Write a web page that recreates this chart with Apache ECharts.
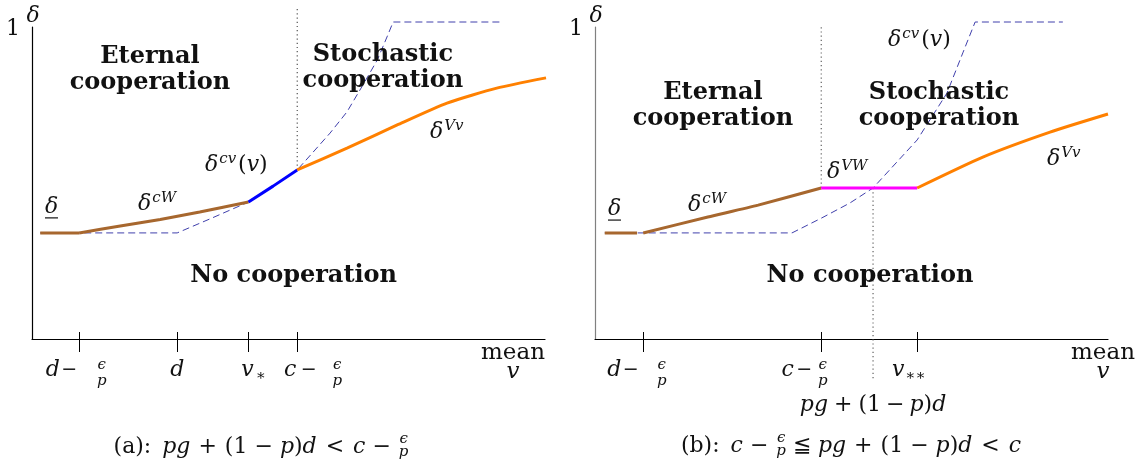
<!DOCTYPE html>
<html>
<head>
<meta charset="utf-8">
<script src="https://cdn.jsdelivr.net/npm/echarts@6/dist/echarts.min.js"></script>
<style>
  html, body { margin: 0; padding: 0; background: #fff; }
  #c { width: 1146px; height: 475px; }
</style>
</head>
<body>
<div id="c"></div>
<script>
// ---- positions on the "mean v" axis ----
const ticksA = [0.92, 2.83, 4.22, 5.17];   // d-ϵ/p, d, v*, c-ϵ/p
const ticksB = [0.94, 4.41, 6.28];         // d-ϵ/p, c-ϵ/p, v**
const pgB = 5.42;                          // pg+(1-p)d in panel (b)

// ---- panel (a) curves, [v, δ] ----
const lowA  = [[0.16, 0.34], [0.92, 0.34]];
const cWA   = [[0.92, 0.34], [1.72, 0.362], [2.50, 0.383], [3.27, 0.407], [4.22, 0.439]];
const cvSolidA = [[4.22, 0.439], [4.70, 0.49], [5.17, 0.542]];
const VvA   = [[5.17, 0.542], [6.14, 0.612], [7.12, 0.686], [8.09, 0.756], [9.06, 0.804], [10.02, 0.837]];
const cvA   = [[0.16, 0.34], [2.83, 0.34], [3.47, 0.385], [4.22, 0.439], [4.70, 0.49], [5.17, 0.542],
               [5.48, 0.599], [5.81, 0.660], [6.14, 0.728], [6.45, 0.814], [6.73, 0.894], [6.92, 0.968],
               [7.04, 1.016], [9.12, 1.016]];

// ---- panel (b) curves, [v, δ] ----
const lowB  = [[0.19, 0.34], [0.82, 0.34]];
const cWB   = [[0.94, 0.34], [2.20, 0.391], [3.18, 0.429], [4.41, 0.484]];
const VWB   = [[4.41, 0.484], [6.28, 0.484]];
const VvB   = [[6.28, 0.484], [7.56, 0.583], [8.87, 0.663], [10.0, 0.721]];
const cvB   = [[0.19, 0.34], [3.84, 0.34], [4.42, 0.388], [4.97, 0.436], [5.42, 0.484], [6.28, 0.638],
               [6.86, 0.788], [7.17, 0.917], [7.41, 1.016], [9.12, 1.016]];

// tick labels: [text, font, dx of glyph centre, baseline below axis]
const tickLabelsA = [
  [['d', 'it', -26.5, 38], ['−', 'mn', -10, 37], ['ϵ', 'fr', 22.5, 31], ['p', 'fr', 22.5, 47]],
  [['d', 'it', 0, 38]],
  [['v', 'it', -1, 38], ['∗', 'frr', 12, 42]],
  [['c', 'it', -7, 38], ['−', 'mn', 11.5, 37], ['ϵ', 'fr', 40, 31], ['p', 'fr', 40, 47]]
];
const tickLabelsB = [
  [['d', 'it', -29, 38], ['−', 'mn', -12.5, 37], ['ϵ', 'fr', 18.5, 31], ['p', 'fr', 18.5, 47]],
  [['c', 'it', -33.5, 38], ['−', 'mn', -17, 37], ['ϵ', 'fr', 1.5, 31], ['p', 'fr', 1.5, 47]],
  [['v', 'it', -19, 38], ['∗∗', 'frr', -2, 42]]
];

// ---- styling ----
const INK = '#111';
const FAMILY = "'DejaVu Serif', serif";
// [size, italic, bold]
const FT = {
  it: [22, 1, 0], rm: [22, 0, 0], mn: [19, 0, 0], sup: [15, 1, 0], fr: [15, 1, 0], frr: [15, 0, 0],
  bold: [24, 0, 1], mean: [23, 0, 0], meanit: [23, 1, 0]
};
const cssFont = f => `${FT[f][1] ? 'italic ' : ''}${FT[f][2] ? 'bold ' : ''}${FT[f][0]}px ${FAMILY}`;
const fontStyle = f => ({ font: cssFont(f) });
const BROWN = '#a7672e', ORANGE = '#ff8000', BLUE = '#0000ff', MAGENTA = '#ff00ff', DASH = '#4040ac';

const chart = echarts.init(document.getElementById('c'), null, { renderer: 'canvas' });

function xAxisPair(grid, ticks) {
  const base = { type: 'value', gridIndex: grid, min: 0, max: 10, position: 'bottom',
    splitLine: { show: false }, axisLabel: { show: false } };
  return [
    Object.assign({}, base, {
      axisLine: { show: true, lineStyle: { color: '#000', width: 1.2 } },
      axisTick: { show: true, inside: false, length: 13, customValues: ticks, lineStyle: { color: '#000', width: 1 } }
    }),
    Object.assign({}, base, {
      axisLine: { show: false },
      axisTick: { show: true, inside: true, length: 7, customValues: ticks, lineStyle: { color: '#000', width: 1 } }
    })
  ];
}
function yAxis(grid, color) {
  return { type: 'value', gridIndex: grid, min: 0, max: 1,
    axisLine: { show: true, lineStyle: { color, width: 1.2 } },
    axisTick: { show: false }, axisLabel: { show: false }, splitLine: { show: false } };
}
function line(data, xi, yi, color, width, type, extra) {
  return Object.assign({
    type: 'line', xAxisIndex: xi, yAxisIndex: yi, data, symbol: 'none', silent: true, clip: false,
    animation: false, lineStyle: { color, width, type, cap: 'butt' }
  }, extra || {});
}
const smooth = { smooth: 0.2 };

chart.setOption({
  animation: false,
  backgroundColor: '#fff',
  grid: [
    { left: 32, top: 27, width: 513, height: 312 },
    { left: 595, top: 27, width: 513, height: 312 }
  ],
  xAxis: [...xAxisPair(0, ticksA), ...xAxisPair(1, ticksB)],
  yAxis: [yAxis(0, '#000'), yAxis(1, '#808080')],
  series: [
    // panel (a)
    line(cvA, 0, 0, DASH, 1, [7, 4]),
    line([[ticksA[3], VvA[0][1]], [ticksA[3], 1.064]], 0, 0, '#444', 1.1, [1.2, 3]),
    line(lowA, 0, 0, BROWN, 3, 'solid'),
    line(cWA, 0, 0, BROWN, 3, 'solid', smooth),
    line(cvSolidA, 0, 0, BLUE, 3, 'solid'),
    line(VvA, 0, 0, ORANGE, 3, 'solid', smooth),
    // panel (b)
    line(cvB, 2, 1, DASH, 1, [7, 4]),
    line([[ticksB[1], VWB[0][1]], [ticksB[1], 1.006]], 2, 1, '#555', 1.1, [1.2, 3]),
    line([[pgB, VWB[0][1]], [pgB, -0.131]], 2, 1, '#555', 1.1, [1.2, 3]),
    line(lowB, 2, 1, BROWN, 3, 'solid'),
    line(cWB, 2, 1, BROWN, 3, 'solid', smooth),
    line(VWB, 2, 1, MAGENTA, 3, 'solid'),
    line(VvB, 2, 1, ORANGE, 3, 'solid', smooth)
  ]
});

// ---- text layer ----
const mctx = document.createElement('canvas').getContext('2d');
function tw(t, f) { mctx.font = cssFont(f); return mctx.measureText(t).width; }
function T(text, f, x, base, align) {
  return { type: 'text', x, y: base - 0.32 * FT[f][0], silent: true, z: 10,
    style: Object.assign({ text, fill: INK, align: align || 'left', verticalAlign: 'middle' }, fontStyle(f)) };
}
// lay pieces left to right from (x, base)
function flow(x, base, pieces, align) {
  const items = pieces.map(p => Object.assign({}, p,
    { w: p.num ? Math.max(tw(p.num, 'fr'), tw(p.den, 'fr')) : tw(p.t, p.f || 'it') }));
  const total = items.reduce((s, p) => s + p.w + (p.gap || 0), 0);
  let cx = align === 'center' ? x - total / 2 : x;
  const out = [];
  items.forEach(p => {
    cx += p.gap || 0;
    if (p.num) {
      out.push(T(p.num, 'fr', cx + p.w / 2, base - 10, 'center'));
      out.push(T(p.den, 'fr', cx + p.w / 2, base + 3, 'center'));
    } else {
      out.push(T(p.t, p.f || 'it', cx, base - (p.rise || 0), 'left'));
    }
    cx += p.w;
  });
  return out;
}
const P = (g, x, y) => chart.convertToPixel({ gridIndex: g }, [x, y]);
const sup = (t) => ({ t, f: 'sup', rise: 8, gap: 1 });
const d = { t: 'δ', f: 'it' };

const els = [];
function mathAt(g, at, pieces) { const p = P(g, at[0], at[1]); els.push(...flow(p[0], p[1], pieces)); }
function blockAt(g, at, text) {
  const p = P(g, at[0], at[1]);
  els.push({ type: 'text', x: p[0], y: p[1], silent: true, z: 10,
    style: Object.assign({ text, fill: INK, align: 'center', verticalAlign: 'middle', lineHeight: 26 }, fontStyle('bold')) });
}
function underDelta(g, at) {
  const p = P(g, at[0], at[1]);
  els.push(T('δ', 'it', p[0], p[1], 'left'));
  els.push({ type: 'line', silent: true, z: 10, shape: { x1: p[0], y1: p[1] + 4, x2: p[0] + 13, y2: p[1] + 4 },
    style: { stroke: INK, lineWidth: 1.2 } });
}
function axisTexts(g, ticks, labels) {
  ticks.forEach((v, i) => {
    const p = P(g, v, 0);
    labels[i].forEach(([t, f, dx, dy]) => els.push(T(t, f, p[0] + dx, p[1] + dy, 'center')));
  });
  const end = P(g, 10, 0), top = P(g, 0, 1);
  els.push(T('mean', 'mean', end[0] - (g === 0 ? 32 : 5), end[1] + 21, 'center'));
  els.push(T('v', 'meanit', end[0] - (g === 0 ? 32 : 5), end[1] + 40, 'center'));
  els.push(T('1', 'rm', top[0] - 19, top[1] + 9, 'center'));
  els.push(T('δ', 'it', top[0] + 1, top[1] - 4, 'center'));
}

// panel (a)
axisTexts(0, ticksA, tickLabelsA);
blockAt(0, [2.30, 0.863], 'Eternal\ncooperation');
blockAt(0, [6.84, 0.868], 'Stochastic\ncooperation');
blockAt(0, [5.10, 0.204], 'No cooperation');
mathAt(0, [3.372, 0.535], [d, sup('cv'), { t: '(', f: 'rm', gap: 2 }, { t: 'v', f: 'it' }, { t: ')', f: 'rm' }]);
mathAt(0, [2.066, 0.410], [d, sup('cW')]);
mathAt(0, [7.758, 0.641], [d, sup('Vv')]);
underDelta(0, [0.253, 0.401]);

// panel (b)
axisTexts(1, ticksB, tickLabelsB);
blockAt(1, [2.30, 0.748], 'Eternal\ncooperation');
blockAt(1, [6.706, 0.748], 'Stochastic\ncooperation');
blockAt(1, [5.361, 0.204], 'No cooperation');
mathAt(1, [5.712, 0.936], [d, sup('cv'), { t: '(', f: 'rm', gap: 2 }, { t: 'v', f: 'it' }, { t: ')', f: 'rm' }]);
mathAt(1, [4.522, 0.513], [d, sup('VW')]);
mathAt(1, [8.811, 0.554], [d, sup('Vv')]);
mathAt(1, [1.813, 0.407], [d, sup('cW')]);
underDelta(1, [0.253, 0.394]);

// pg + (1 − p)d under panel (b)
const pgPx = P(1, pgB, 0);
els.push(...flow(pgPx[0], pgPx[1] + 73, [
  { t: 'pg', f: 'it' }, { t: '+', f: 'rm', gap: 6 }, { t: '(1', f: 'rm', gap: 6 }, { t: '−', f: 'rm', gap: 5 },
  { t: 'p', f: 'it', gap: 5 }, { t: ')', f: 'rm' }, { t: 'd', f: 'it' }], 'center'));

// captions
const oA = P(0, 0, 0), oB = P(1, 0, 0);
els.push(...flow(oA[0] + 229, oA[1] + 115, [
  { t: '(a):', f: 'rm' }, { t: 'pg', f: 'it', gap: 11 }, { t: '+', f: 'rm', gap: 8 }, { t: '(1', f: 'rm', gap: 8 },
  { t: '−', f: 'rm', gap: 7 }, { t: 'p', f: 'it', gap: 7 }, { t: ')', f: 'rm' }, { t: 'd', f: 'it' },
  { t: '<', f: 'rm', gap: 9 }, { t: 'c', f: 'it', gap: 9 }, { t: '−', f: 'rm', gap: 7 }, { num: 'ϵ', den: 'p', gap: 8 }
], 'center'));
els.push(...flow(oB[0] + 256, oB[1] + 114, [
  { t: '(b):', f: 'rm' }, { t: 'c', f: 'it', gap: 11 }, { t: '−', f: 'rm', gap: 7 }, { num: 'ϵ', den: 'p', gap: 8 },
  { t: '≦', f: 'rm', gap: 7 }, { t: 'pg', f: 'it', gap: 7 }, { t: '+', f: 'rm', gap: 8 }, { t: '(1', f: 'rm', gap: 8 },
  { t: '−', f: 'rm', gap: 7 }, { t: 'p', f: 'it', gap: 7 }, { t: ')', f: 'rm' }, { t: 'd', f: 'it' },
  { t: '<', f: 'rm', gap: 9 }, { t: 'c', f: 'it', gap: 9 }
], 'center'));

chart.setOption({ graphic: { elements: els } });
</script>
</body>
</html>
